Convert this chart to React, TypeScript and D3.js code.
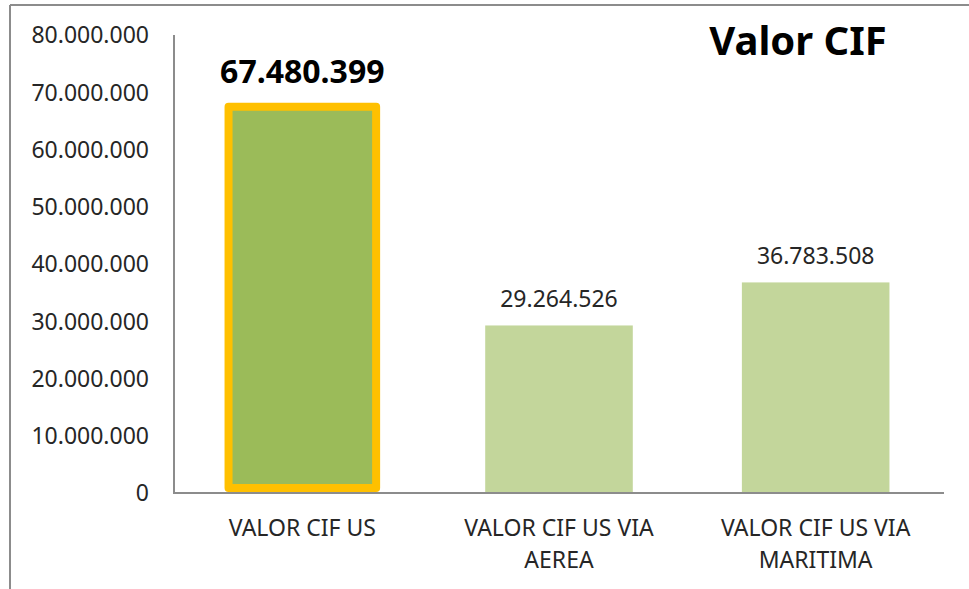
import React from "react";
import * as d3 from "d3";

const categories: string[][] = [
  ["VALOR CIF US"],
  ["VALOR CIF US VIA", "AEREA"],
  ["VALOR CIF US VIA", "MARITIMA"],
];
const values: number[] = [67480399, 29264526, 36783508];
const highlighted: boolean[] = [true, false, false];
const yTicks: number[] = [0, 10000000, 20000000, 30000000, 40000000, 50000000, 60000000, 70000000, 80000000];
const title = "Valor CIF";

const W = 969;
const H = 589;
const left = 174;
const right = 944;
const top = 35;
const bottom = 493;

const fmt = (v: number) => {
  const s = Math.round(v).toString();
  return s.replace(/\B(?=(\d{3})+(?!\d))/g, ".");
};

export default function App() {
  const x = d3
    .scaleBand<number>()
    .domain(values.map((_, i) => i))
    .range([left, right])
    .paddingInner(0.425)
    .paddingOuter(0.2125);
  const y = d3.scaleLinear().domain([0, 80000000]).range([bottom, top]);
  const font = "'Noto Sans', 'Open Sans', sans-serif";
  const sw = 8;

  return (
    <svg
      width={W}
      height={H}
      style={{ position: "absolute", left: 0, top: 0, background: "#fff" }}
      fontFamily={font}
    >
      <rect x={0} y={0} width={W} height={H} fill="#fff" />
      {/* outer frame (top & left visible) */}
      <line x1={10} y1={5} x2={W} y2={5} stroke="#8c8c8c" strokeWidth={2} />
      <line x1={10} y1={5} x2={10} y2={H} stroke="#8c8c8c" strokeWidth={2} />

      {/* y tick labels */}
      {yTicks.map((t) => (
        <text
          key={t}
          x={149}
          y={y(t)}
          dy="0.36em"
          textAnchor="end"
          fontSize={23}
          fill="#262626"
        >
          {fmt(t)}
        </text>
      ))}

      {/* bars */}
      {values.map((v, i) => {
        const bx = x(i)!;
        const bw = x.bandwidth();
        const by = y(v);
        const bh = y(0) - by;
        return highlighted[i] ? (
          <rect
            key={i}
            x={bx}
            y={by}
            width={bw}
            height={bh - sw / 2 - 1}
            fill="#9BBB59"
            stroke="#FFC000"
            strokeWidth={sw}
            strokeLinejoin="round"
          />
        ) : (
          <rect key={i} x={bx} y={by} width={bw} height={bh} fill="#C3D69B" />
        );
      })}

      {/* axes */}
      <line x1={left} y1={top} x2={left} y2={bottom} stroke="#8c8c8c" strokeWidth={2} />
      <line x1={left - 1} y1={bottom} x2={right} y2={bottom} stroke="#8c8c8c" strokeWidth={2} />

      {/* value labels */}
      {values.map((v, i) => {
        const cx = x(i)! + x.bandwidth() / 2;
        return highlighted[i] ? (
          <text key={i} x={cx} y={y(v) - 24} textAnchor="middle" fontSize={32} fontWeight="bold" fill="#000">
            {fmt(v)}
          </text>
        ) : (
          <text key={i} x={cx} y={y(v) - 18} textAnchor="middle" fontSize={23} fill="#262626">
            {fmt(v)}
          </text>
        );
      })}

      {/* category labels */}
      {categories.map((lines, i) => {
        const cx = x(i)! + x.bandwidth() / 2;
        return (
          <text key={i} textAnchor="middle" fontSize={23} fill="#262626">
            {lines.map((l, j) => (
              <tspan key={j} x={cx} y={536 + j * 32}>
                {l}
              </tspan>
            ))}
          </text>
        );
      })}

      {/* title */}
      <text x={798} y={55} textAnchor="middle" fontSize={40} fontWeight="bold" fill="#000">
        {title}
      </text>
    </svg>
  );
}
